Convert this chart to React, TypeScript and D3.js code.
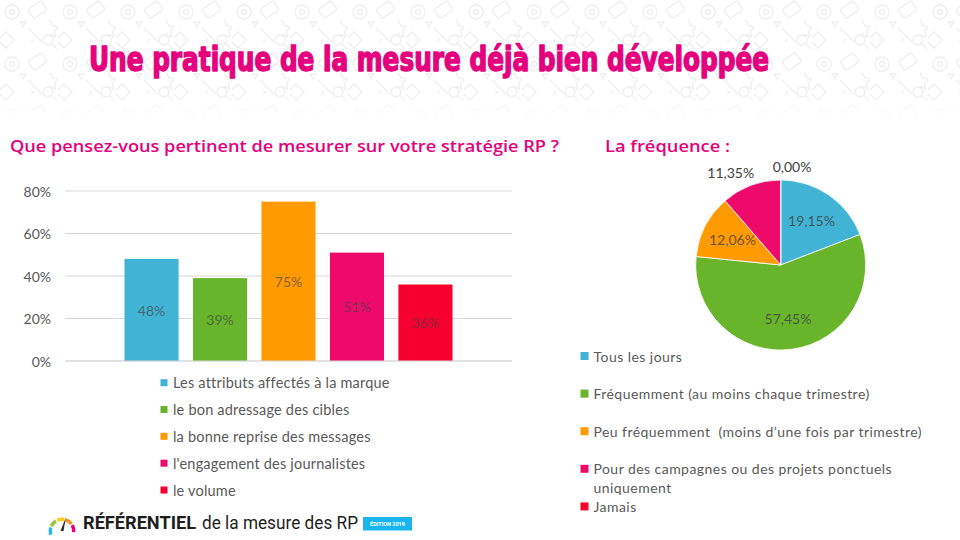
import React from "react";
import * as d3 from "d3";

// ---------- data ----------
const title = "Une pratique de la mesure déjà bien développée";
const barTitle = "Que pensez-vous pertinent de mesurer sur votre stratégie RP ?";
const pieTitle = "La fréquence :";

const barSeries = [
  "Les attributs affectés à la marque",
  "le bon adressage des cibles",
  "la bonne reprise des messages",
  "l'engagement des journalistes",
  "le volume",
];
const barValues = [0.48, 0.39, 0.75, 0.51, 0.36];
const barTicks = [0, 0.2, 0.4, 0.6, 0.8];

const pieCategories = [
  ["Tous les jours"],
  ["Fréquemment (au moins chaque trimestre)"],
  ["Peu fréquemment  (moins d’une fois par trimestre)"],
  ["Pour des campagnes ou des projets ponctuels", "uniquement"],
  ["Jamais"],
];
const pieValues = [19.15, 57.45, 12.06, 11.35, 0.0];

const palette = ["#41B3D4", "#68B42A", "#FF9A00", "#EE0A6B", "#F7002F"];
const gaugeColors = ["#2BB5E8", "#8BC53F", "#F7D117", "#F7931E", "#E6007E"];

const PINK = "#E5007E";
const FONT = "Lato, 'Open Sans', sans-serif";

const frLocale = d3.formatLocale({
  decimal: ",",
  thousands: " ",
  grouping: [3],
  currency: ["", " €"],
});
const fmtPie = frLocale.format(".2f");

function Background() {
  return (
    <g>
      <defs>
        <pattern id="icons" width="58" height="52" patternUnits="userSpaceOnUse">
          <g fill="none" stroke="#eeeeee" strokeWidth="1.3">
            <circle cx="12" cy="12" r="7" />
            <circle cx="12" cy="12" r="2.5" />
            <rect x="30" y="4" width="16" height="11" rx="2" transform="rotate(-35 38 10)" />
            <path d="M6 32 l8 8 l-8 8 l-8 -8 z" />
            <path d="M28 28 l14 14 M31 42 l3 -3" />
            <circle cx="48" cy="40" r="5" />
            <path d="M52 44 l5 5" />
            <path d="M20 22 l6 0 l-3 5 z" />
            <path d="M50 20 l3 6 l6 1 l-4.5 4 l1 6 l-5.5 -3" />
          </g>
        </pattern>
        <linearGradient id="fade" x1="0" y1="0" x2="0" y2="1">
          <stop offset="0" stopColor="#fff" stopOpacity="1" />
          <stop offset="0.8" stopColor="#fff" stopOpacity="1" />
          <stop offset="1" stopColor="#fff" stopOpacity="0" />
        </linearGradient>
        <mask id="fadeMask">
          <rect x="0" y="0" width="960" height="118" fill="url(#fade)" />
        </mask>
      </defs>
      <rect x="0" y="0" width="960" height="540" fill="#ffffff" />
      <rect x="0" y="0" width="960" height="118" fill="url(#icons)" mask="url(#fadeMask)" />
    </g>
  );
}

function BarChart() {
  const y = d3.scaleLinear().domain([0, 0.8]).range([361, 191]);
  const x = d3
    .scaleBand<string>()
    .domain(barSeries)
    .range([65, 512])
    .paddingInner(0.21)
    .paddingOuter(0.869);
  const pct = d3.format(".0%");
  const legendY = d3.scalePoint<string>().domain(barSeries).range([382.7, 490]);
  return (
    <g>
      {barTicks.map((t) => (
        <g key={t}>
          <line x1={65} x2={512} y1={y(t)} y2={y(t)} stroke="#d9d9d9" strokeWidth={1} />
          <text
            x={51}
            y={y(t)}
            textAnchor="end"
            dominantBaseline="central"
            fontFamily={FONT}
            fontSize={14}
            fill="#595959"
          >
            {pct(t)}
          </text>
        </g>
      ))}
      {barSeries.map((s, i) => (
        <g key={s}>
          <rect
            x={x(s)}
            y={y(barValues[i])}
            width={x.bandwidth()}
            height={y(0) - y(barValues[i])}
            fill={palette[i]}
          />
          <text
            x={(x(s) as number) + x.bandwidth() / 2}
            y={(y(barValues[i]) + y(0)) / 2}
            textAnchor="middle"
            dominantBaseline="central"
            fontFamily={FONT}
            fontSize={14}
            fill="#404040"
            fillOpacity={0.65}
          >
            {pct(barValues[i])}
          </text>
        </g>
      ))}
      <line x1={65} x2={512} y1={y(0)} y2={y(0)} stroke="#d9d9d9" strokeWidth={1} />
      {barSeries.map((s, i) => (
        <g key={"lg" + s}>
          <rect x={160.5} y={(legendY(s) as number) - 3.5} width={7} height={7} fill={palette[i]} />
          <text
            x={173}
            y={legendY(s) as number}
            dominantBaseline="central"
            fontFamily={FONT}
            fontSize={14.5}
            letterSpacing={0.2}
            fill="#595959"
          >
            {s}
          </text>
        </g>
      ))}
    </g>
  );
}

function PieChart() {
  const cx = 780.7;
  const cy = 265;
  const R = 85;
  const pie = d3.pie<number>().sort(null).value((d) => d)(pieValues);
  const arc = d3.arc<d3.PieArcDatum<number>>().innerRadius(0).outerRadius(R);
  const inner = d3.arc<d3.PieArcDatum<number>>().innerRadius(R * 0.64).outerRadius(R * 0.64);
  const outer = d3.arc<d3.PieArcDatum<number>>().innerRadius(R + 14).outerRadius(R + 14);
  const legendY = d3.scaleLinear().domain([0, 4]).range([356, 506.4]);
  return (
    <g>
      <g transform={`translate(${cx},${cy})`}>
        {pie.map((p, i) => (
          <path key={i} d={arc(p) || ""} fill={palette[i]} stroke="#ffffff" strokeWidth={0.8} />
        ))}
        {pie.map((p, i) => {
          const label = fmtPie(p.data) + "%";
          if (p.data >= 12) {
            const [lx, ly] = inner.centroid(p);
            return (
              <text
                key={"l" + i}
                x={lx}
                y={ly}
                textAnchor="middle"
                dominantBaseline="central"
                fontFamily={FONT}
                fontSize={14}
                fill="#404040"
                fillOpacity={0.8}
              >
                {label}
              </text>
            );
          }
          const [ox, oy] = outer.centroid(p);
          const left = ox < -0.01;
          return (
            <text
              key={"l" + i}
              x={left ? ox + 8 : ox - 8}
              y={oy}
              textAnchor={left ? "end" : "start"}
              dominantBaseline="central"
              fontFamily={FONT}
              fontSize={14}
              fill="#404040"
            >
              {label}
            </text>
          );
        })}
      </g>
      {pieCategories.map((lines, i) => (
        <g key={"pl" + i}>
          <rect x={580.5} y={legendY(i) - 4} width={8} height={8} fill={palette[i]} />
          {lines.map((ln, j) => (
            <text
              key={j}
              x={593.5}
              y={legendY(i) + j * 19}
              dominantBaseline="central"
              fontFamily={FONT}
              fontSize={14}
              letterSpacing={0.45}
              fill="#595959"
              style={{ whiteSpace: "pre" }}
            >
              {ln}
            </text>
          ))}
        </g>
      ))}
    </g>
  );
}

function Footer() {
  const gx = 62;
  const gy = 531;
  const n = gaugeColors.length;
  const a = d3
    .scaleLinear()
    .domain([0, n])
    .range([-Math.PI * 0.62, Math.PI * 0.55]);
  const seg = d3.arc<number>().innerRadius(10).outerRadius(13.5);
  return (
    <g>
      <g transform={`translate(${gx},${gy})`}>
        {gaugeColors.map((c, i) => (
          <path
            key={c}
            d={
              seg({
                startAngle: a(i) + 0.06,
                endAngle: a(i + 1) - 0.06,
              } as any) || ""
            }
            fill={c}
          />
        ))}
        <path d="M-1.5 0 L4 -14 L1.5 0 Z" fill="#2b2b2b" />
      </g>
      <text
        x={83}
        y={529}
        fontFamily="Roboto, 'DejaVu Sans', sans-serif"
        fontWeight={700}
        fontSize={17.5}
        fill="#1e1e1e"
        textLength={113}
        lengthAdjust="spacingAndGlyphs"
      >
        RÉFÉRENTIEL
      </text>
      <text
        x={202}
        y={529}
        fontFamily="Roboto, 'DejaVu Sans', sans-serif"
        fontSize={17.5}
        fill="#1e1e1e"
        textLength={156}
        lengthAdjust="spacingAndGlyphs"
      >
        de la mesure des RP
      </text>
      <rect x={363} y={517} width={49} height={13.5} fill="#19B5EC" />
      <text
        x={387.5}
        y={524}
        textAnchor="middle"
        dominantBaseline="central"
        fontFamily="Roboto, sans-serif"
        fontWeight={700}
        fontSize={5.5}
        fill="#ffffff"
      >
        ÉDITION 2019
      </text>
    </g>
  );
}

export default function App() {
  return (
    <svg
      width={960}
      height={540}
      viewBox="0 0 960 540"
      style={{ position: "absolute", left: 0, top: 0, display: "block" }}
    >
      <Background />
      <text
        x={89}
        y={71}
        fontFamily="'Liberation Sans Narrow', 'DejaVu Sans Condensed', sans-serif"
        fontWeight={700}
        fontSize={33}
        fill={PINK}
        stroke={PINK}
        strokeWidth={1.4}
        strokeLinejoin="round"
        textLength={680}
        lengthAdjust="spacingAndGlyphs"
      >
        {title}
      </text>
      <text
        x={10}
        y={152}
        fontFamily="'Open Sans', 'DejaVu Sans', sans-serif"
        fontWeight={600}
        fontSize={17}
        fill={PINK}
        textLength={549}
        lengthAdjust="spacingAndGlyphs"
      >
        {barTitle}
      </text>
      <text
        x={605}
        y={152}
        fontFamily="'Open Sans', 'DejaVu Sans', sans-serif"
        fontWeight={600}
        fontSize={17}
        fill={PINK}
        textLength={125}
        lengthAdjust="spacingAndGlyphs"
      >
        {pieTitle}
      </text>
      <BarChart />
      <PieChart />
      <Footer />
    </svg>
  );
}
